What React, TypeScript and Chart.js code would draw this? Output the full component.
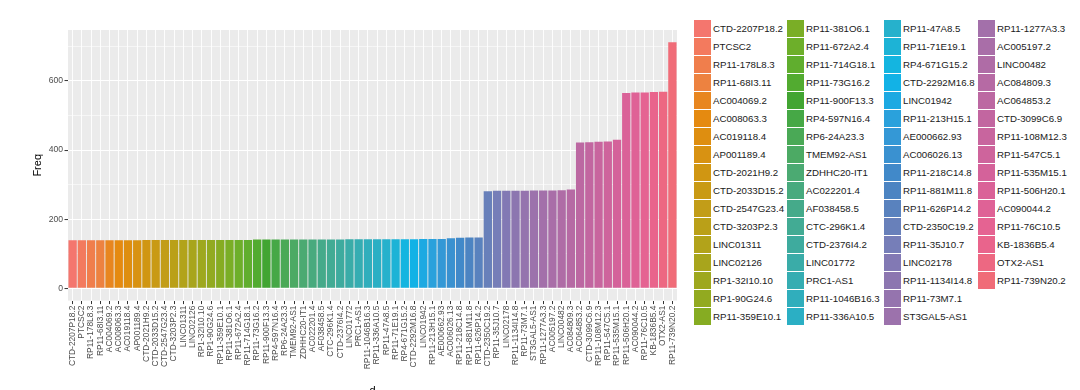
import React, { useEffect, useRef } from "react";
import { Chart, registerables } from "chart.js";

Chart.register(...registerables);

const categories: string[] = [
  "CTD-2207P18.2", "PTCSC2", "RP11-178L8.3", "RP11-68I3.11", "AC004069.2", "AC008063.3",
  "AC019118.4", "AP001189.4", "CTD-2021H9.2", "CTD-2033D15.2", "CTD-2547G23.4", "CTD-3203P2.3",
  "LINC01311", "LINC02126", "RP1-32I10.10", "RP1-90G24.6", "RP11-359E10.1",
  "RP11-381O6.1", "RP11-672A2.4", "RP11-714G18.1", "RP11-73G16.2", "RP11-900F13.3", "RP4-597N16.4",
  "RP6-24A23.3", "TMEM92-AS1", "ZDHHC20-IT1", "AC022201.4", "AF038458.5", "CTC-296K1.4",
  "CTD-2376I4.2", "LINC01772", "PRC1-AS1", "RP11-1046B16.3", "RP11-336A10.5",
  "RP11-47A8.5", "RP11-71E19.1", "RP4-671G15.2", "CTD-2292M16.8", "LINC01942", "RP11-213H15.1",
  "AE000662.93", "AC006026.13", "RP11-218C14.8", "RP11-881M11.8", "RP11-626P14.2", "CTD-2350C19.2",
  "RP11-35J10.7", "LINC02178", "RP11-1134I14.8", "RP11-73M7.1", "ST3GAL5-AS1",
  "RP11-1277A3.3", "AC005197.2", "LINC00482", "AC084809.3", "AC064853.2", "CTD-3099C6.9",
  "RP11-108M12.3", "RP11-547C5.1", "RP11-535M15.1", "RP11-506H20.1", "AC090044.2", "RP11-76C10.5",
  "KB-1836B5.4", "OTX2-AS1", "RP11-739N20.2",
];

const freq: number[] = [
  139, 139, 139, 139, 139, 139, 139, 139, 140, 140,
  140, 140, 140, 140, 140, 140, 140, 140, 140, 140,
  141, 141, 141, 141, 141, 141, 141, 141, 141, 141,
  142, 142, 142, 142, 142, 142, 142, 142, 143, 143,
  143, 145, 146, 147, 147,
  281, 282, 282, 282, 282, 283, 283, 283, 284, 286,
  422, 423, 424, 425, 430,
  565, 567, 567, 568, 569,
  712,
];

const yTickValues: number[] = [0, 100, 200, 300, 400, 500, 600, 700];
const yTitle = "Freq";
const xTitle = "d";

// fill colours as they appear in the reference (hue palette, printed)
const barColors: string[] = [
  "#F4766E", "#F37A5E", "#F07E4C", "#ED8240", "#E8861F", "#E58A10", "#DE8E10", "#D89212",
  "#D09612", "#C99A14", "#C29D18", "#BAA018", "#B2A31A", "#A8A51C", "#9EA81E", "#92AA20",
  "#86AC22",
  "#7AAE26", "#6DAF2A", "#60AE2E", "#52AB30", "#42A532", "#46A846", "#4AA956", "#4CAA64",
  "#4BAA72", "#48AA7E", "#45AA8A", "#42AB94", "#3EAB9E", "#3AACA8", "#35ADB2", "#30AEBC",
  "#2BAFC4",
  "#26B1CC", "#1DB3D6", "#14B5E0", "#12B2E6", "#1CA9E2", "#2AA1DC", "#3498D6", "#3A91D0",
  "#4189C9", "#4C84C2", "#5982BE", "#6880BA", "#767EB8", "#8279B4", "#8C76B0", "#9574AE",
  "#9C72AC",
  "#A370AA", "#A96EA8", "#AF6CA6", "#B66AA4", "#BC68A2", "#C266A0", "#C8659E", "#CE649C",
  "#D4629A", "#DA6298", "#DF6296", "#E56392", "#E9648C", "#ED6882", "#F06C78",
];

const FONT = '"Liberation Sans", Arial, Helvetica, sans-serif';

const legendColLefts = [694, 787, 884, 978];
const rowsPerCol = 17;

const panelBg = {
  id: "panelBg",
  beforeDraw(chart: any) {
    const { ctx, chartArea } = chart;
    ctx.save();
    ctx.fillStyle = "#EBEBEB";
    ctx.fillRect(chartArea.left, chartArea.top, chartArea.right - chartArea.left, chartArea.bottom - chartArea.top);
    ctx.restore();
  },
};

export default function App() {
  const ref = useRef<HTMLCanvasElement | null>(null);

  useEffect(() => {
    if (!ref.current) return;
    Chart.defaults.font.family = FONT;
    const chart = new Chart(ref.current, {
      type: "bar",
      data: {
        labels: categories,
        datasets: [
          {
            data: freq,
            backgroundColor: barColors,
            borderWidth: 0,
            barPercentage: 0.9,
            categoryPercentage: 1.0,
          },
        ],
      },
      options: {
        animation: false,
        responsive: false,
        layout: { padding: { top: 30, right: 13, left: 0, bottom: 0 } },
        plugins: { legend: { display: false }, tooltip: { enabled: false } },
        scales: {
          x: {
            type: "category",
            offset: true,
            afterFit: (s: any) => {
              s.height = 89.4;
            },
            border: { display: false },
            grid: {
              color: "#FFFFFF",
              lineWidth: 0.9,
              offset: false,
              drawTicks: true,
              tickColor: "#333333",
              tickLength: 3.5,
              tickWidth: 1,
            },
            ticks: {
              autoSkip: false,
              minRotation: 90,
              maxRotation: 90,
              padding: 1.5,
              color: "#4D4D4D",
              font: { size: 8.4, family: FONT },
            },
            title: {
              display: true,
              text: xTitle,
              color: "#000000",
              font: { size: 11, family: FONT },
              padding: { top: 0, bottom: -8 },
            },
          },
          y: {
            type: "linear",
            min: -35.6,
            max: 747.6,
            afterFit: (s: any) => {
              s.width = 68;
            },
            afterBuildTicks: (s: any) => {
              s.ticks = yTickValues.map((v) => ({ value: v }));
            },
            border: { display: false },
            grid: {
              color: "#FFFFFF",
              lineWidth: (c: any) => (c.tick && c.tick.value % 200 === 0 ? 1.1 : 0.55),
              tickColor: (c: any) => (c.tick && c.tick.value % 200 === 0 ? "#333333" : "rgba(0,0,0,0)"),
              tickLength: 3.5,
              tickWidth: 1,
            },
            ticks: {
              padding: 1.5,
              color: "#4D4D4D",
              font: { size: 8.6, family: FONT },
              callback: (v: any) => (Number(v) % 200 === 0 ? String(v) : ""),
            },
            title: {
              display: true,
              text: yTitle,
              color: "#000000",
              font: { size: 11, family: FONT },
              padding: { top: 31, bottom: 0 },
            },
          },
        },
      },
      plugins: [panelBg],
    } as any);
    return () => chart.destroy();
  }, []);

  const cols: number[][] = [];
  for (let i = 0; i < categories.length; i++) {
    const c = Math.floor(i / rowsPerCol);
    if (!cols[c]) cols[c] = [];
    cols[c].push(i);
  }

  return (
    <div style={{ position: "absolute", left: 0, top: 0, width: 1080, height: 390, background: "#FFFFFF", overflow: "hidden" }}>
      <canvas ref={ref} width={690} height={390} style={{ position: "absolute", left: 0, top: 0, width: 690, height: 390 }} />
      {cols.map((col, ci) => (
        <div key={ci} style={{ position: "absolute", left: legendColLefts[ci], top: 20 }}>
          {col.map((idx, ri) => (
            <div
              key={idx}
              style={{ position: "absolute", left: 0, top: ri * 18.03, height: 17, display: "flex", alignItems: "center", whiteSpace: "nowrap" }}
            >
              <div style={{ width: 17, height: 17, background: barColors[idx], flex: "none" }} />
              <span style={{ marginLeft: 2, fontFamily: FONT, fontSize: 9.7, color: "#1A1A1A", lineHeight: "17px" }}>
                {categories[idx]}
              </span>
            </div>
          ))}
        </div>
      ))}
    </div>
  );
}
